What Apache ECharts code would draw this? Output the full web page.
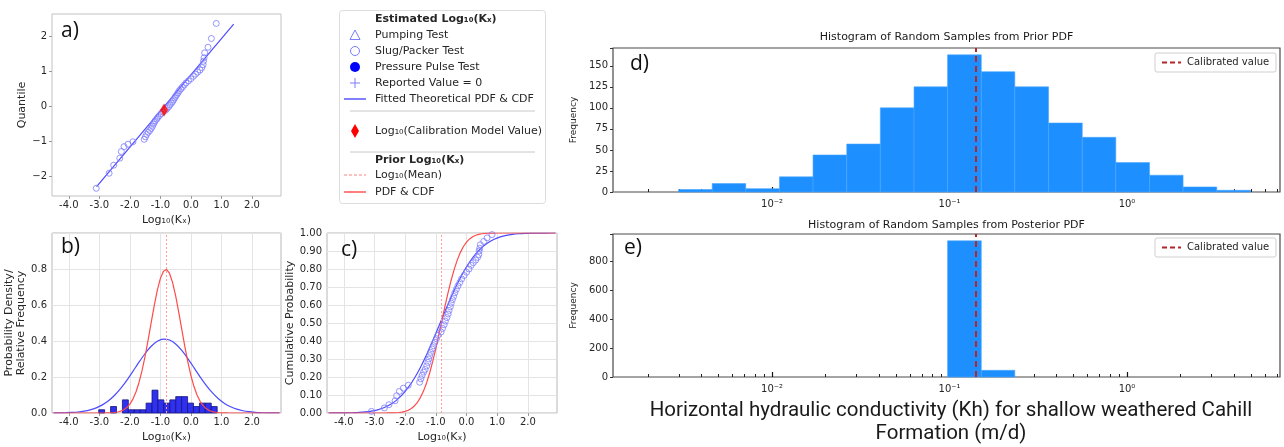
<!DOCTYPE html>
<html>
<head>
<meta charset="utf-8">
<script src="https://cdn.jsdelivr.net/npm/echarts@6/dist/echarts.min.js"></script>
<style>
  html, body { margin: 0; padding: 0; background: #fff; }
  #chart { width: 1284px; height: 447px; }
</style>
</head>
<body>
<div id="chart"></div>
<script>
// ---- Estimated log10(Kx) of the test samples (sorted) ----
const sampleLogK = [-3.10,-2.68,-2.53,-2.33,-2.28,-2.19,-2.06,-1.90,-1.53,-1.49,-1.45,-1.40,-1.35,-1.30,-1.26,-1.23,-1.20,-1.17,-1.12,-1.08,-1.03,-0.98,-0.93,-0.83,-0.78,-0.73,-0.69,-0.64,-0.60,-0.57,-0.53,-0.50,-0.46,-0.42,-0.38,-0.33,-0.28,-0.22,-0.16,-0.08,0.00,0.08,0.15,0.22,0.30,0.36,0.40,0.41,0.43,0.45,0.56,0.67,0.83];
const sampleQuantile = [-2.35,-1.92,-1.69,-1.49,-1.30,-1.16,-1.09,-1.02,-0.95,-0.88,-0.81,-0.75,-0.70,-0.64,-0.58,-0.52,-0.47,-0.42,-0.37,-0.32,-0.27,-0.22,-0.17,-0.12,-0.07,-0.02,0.03,0.08,0.13,0.18,0.23,0.28,0.33,0.38,0.44,0.49,0.54,0.60,0.66,0.72,0.78,0.85,0.91,0.97,1.03,1.10,1.18,1.28,1.38,1.52,1.68,1.93,2.36];
const sampleCumProb = [0.009,0.028,0.046,0.068,0.096,0.12,0.138,0.154,0.171,0.19,0.209,0.227,0.242,0.261,0.281,0.30,0.319,0.337,0.356,0.374,0.393,0.413,0.432,0.45,0.47,0.49,0.51,0.53,0.55,0.57,0.59,0.61,0.63,0.648,0.668,0.687,0.706,0.725,0.745,0.764,0.782,0.80,0.82,0.835,0.85,0.865,0.88,0.90,0.915,0.935,0.953,0.973,0.991];

// calibration model value and fitted Q-Q line
const calibLogK = -0.88;
const calibQuantile = -0.11;
const fitLineLogK = [-3.09, 1.40];
const fitLineQuantile = [-2.30, 2.34];
const priorMeanLogK = -0.82;

// fitted theoretical PDF / CDF
const fitCurveLogK = [-4.5,-4.3,-4.1,-3.9,-3.7,-3.5,-3.3,-3.1,-2.9,-2.7,-2.5,-2.3,-2.1,-1.9,-1.7,-1.5,-1.3,-1.1,-0.9,-0.7,-0.5,-0.3,-0.1,0.1,0.3,0.5,0.7,0.9,1.1,1.3,1.5,1.7,1.9,2.1,2.3,2.5,2.7,2.9];
const fitPdf = [0.0004,0.0008,0.0016,0.0030,0.0056,0.0102,0.0174,0.0285,0.0451,0.0679,0.0984,0.1368,0.1816,0.2313,0.2825,0.3306,0.3707,0.3986,0.4106,0.4054,0.3836,0.3479,0.3024,0.2519,0.2011,0.1538,0.1128,0.0792,0.0534,0.0345,0.0213,0.0127,0.0072,0.0039,0.0020,0.0010,0.0005,0.0002];
const fitCdf = [0.0001,0.0002,0.0004,0.0009,0.0017,0.0032,0.0060,0.0105,0.0177,0.0289,0.0454,0.0688,0.1006,0.1418,0.1932,0.2546,0.3250,0.4024,0.4836,0.5655,0.6447,0.7181,0.7835,0.8389,0.8841,0.9195,0.9461,0.9652,0.9784,0.9870,0.9925,0.9958,0.9978,0.9989,0.9994,0.9997,0.9999,0.9999];

// prior PDF / CDF
const priorCurveLogK = [-4.5,-2.9,-2.8,-2.7,-2.6,-2.5,-2.4,-2.3,-2.2,-2.1,-2.0,-1.9,-1.8,-1.7,-1.6,-1.5,-1.4,-1.3,-1.2,-1.1,-1.0,-0.9,-0.8,-0.7,-0.6,-0.5,-0.4,-0.3,-0.2,-0.1,0.0,0.1,0.2,0.3,0.4,0.5,0.6,0.7,0.8,0.9,1.0,1.1,1.2,1.3,2.9];
const priorPdf = [0,0.0001,0.0003,0.0007,0.0014,0.0028,0.0054,0.0100,0.0177,0.0301,0.0493,0.0774,0.1169,0.1696,0.2364,0.3165,0.4071,0.5033,0.5978,0.6821,0.7480,0.7879,0.7974,0.7753,0.7244,0.6502,0.5607,0.4647,0.3700,0.2830,0.2080,0.1468,0.0996,0.0649,0.0407,0.0245,0.0141,0.0079,0.0042,0.0021,0.0011,0.0005,0.0002,0.0001,0];
const priorCdf = [0,0,0,0.0001,0.0002,0.0004,0.0008,0.0015,0.0029,0.0052,0.0091,0.0154,0.0250,0.0392,0.0594,0.0869,0.1230,0.1685,0.2236,0.2877,0.3594,0.4364,0.5160,0.5948,0.6700,0.7389,0.7995,0.8508,0.8925,0.9251,0.9495,0.9671,0.9793,0.9875,0.9927,0.9959,0.9977,0.9988,0.9994,0.9997,0.9999,0.9999,1,1,1];

// relative frequency of the estimated log10(Kx)
const relFreqEdges = [-3.02,-2.826,-2.632,-2.438,-2.244,-2.05,-1.856,-1.662,-1.468,-1.274,-1.08,-0.886,-0.692,-0.498,-0.304,-0.11,0.084,0.278,0.472,0.666,0.86];
const relFreq = [0.018,0,0.036,0,0.073,0.018,0.018,0.018,0.055,0.127,0.073,0.055,0.073,0.091,0.091,0.055,0.036,0.055,0.055,0.036];

// random samples of Kh (m/d): shared bin edges, prior and posterior counts
const khBinEdges = [0.00297,0.0046,0.00711,0.01101,0.01702,0.02636,0.04074,0.0631,0.0975,0.151,0.2333,0.3614,0.5598,0.865,1.340,2.070,3.206,4.966];
const priorCounts = [3,10,4,18,44,57,100,125,163,143,125,82,65,35,20,6,2];
const posteriorCounts = [0,0,0,0,0,0,0,0,940,46,0,0,0,0,0,0,0];
const calibratedKh = 0.14;

// axis tick values
const logKTicks = [-4, -3, -2, -1, 0, 1, 2];
const quantileTicks = [-2, -1, 0, 1, 2];
const khMajorTicks = [0.01, 0.1, 1];
const khMinorTicks = [0.002,0.003,0.004,0.005,0.006,0.007,0.008,0.009,0.02,0.03,0.04,0.05,0.06,0.07,0.08,0.09,0.2,0.3,0.4,0.5,0.6,0.7,0.8,0.9,2,3,4,5,6,7];

// ---------------------------------------------------------------
const FONT = '"DejaVu Sans", sans-serif';
const TXT = '#262626';
const blueLine = '#4b4bff';
const bluePts = '#7c7cff';
const redLine = '#ff4a4a';

const chart = echarts.init(document.getElementById('chart'), null, { renderer: 'canvas' });

function zip(a, b) { return a.map((v, i) => [v, b[i]]); }
function binRows(edges, vals) {
  const rows = [];
  vals.forEach((v, i) => { if (v > 0) rows.push([edges[i], edges[i + 1], v]); });
  return rows;
}
function histRenderer(fill, stroke, lw) {
  return function (params, api) {
    const p0 = api.coord([api.value(0), api.value(2)]);
    const p1 = api.coord([api.value(1), 0]);
    return {
      type: 'rect',
      shape: { x: p0[0], y: p0[1], width: p1[0] - p0[0], height: p1[1] - p0[1] },
      style: { fill: fill, stroke: stroke, lineWidth: lw }
    };
  };
}
const fmtLogK = v => (Math.round(v * 10) / 10).toFixed(1);
const supMap = { '-': '⁻', '0': '⁰', '1': '¹', '2': '²', '3': '³' };
const fmtPow = v => '10' + String(Math.round(Math.log10(v))).split('').map(c => supMap[c]).join('');

function logKAxis(gi, withGrid) {
  return {
    type: 'value', gridIndex: gi, min: -4.55, max: 2.95,
    axisLine: { show: false, onZero: false },
    axisTick: { show: true, customValues: logKTicks, length: 3, lineStyle: { color: '#9a9a9a' } },
    axisLabel: { customValues: logKTicks, formatter: fmtLogK, color: TXT, fontFamily: FONT, fontSize: 10, margin: 4 },
    splitLine: { show: withGrid, lineStyle: { color: '#e4e4e4', width: 1 } },
    name: 'Log₁₀(Kₓ)', nameLocation: 'middle', nameGap: 19,
    nameTextStyle: { color: TXT, fontFamily: FONT, fontSize: 11 }
  };
}
function khAxis(gi) {
  return {
    type: 'log', logBase: 10, gridIndex: gi, min: 0.00127, max: 7.28,
    axisLine: { show: false, onZero: false },
    axisTick: { show: true, inside: true, customValues: khMajorTicks, length: 5, lineStyle: { color: '#111', width: 1.2 } },
    axisLabel: { customValues: khMajorTicks, formatter: fmtPow, color: TXT, fontFamily: FONT, fontSize: 10, margin: 7 },
    splitLine: { show: false }
  };
}
function khMinorAxis(gi) {
  return {
    type: 'log', logBase: 10, gridIndex: gi, min: 0.00127, max: 7.28, position: 'bottom',
    axisLine: { show: false, onZero: false },
    axisTick: { show: true, inside: true, customValues: khMinorTicks, length: 3, lineStyle: { color: '#222', width: 1 } },
    axisLabel: { show: false },
    splitLine: { show: false }
  };
}
function countAxis(gi, max, step) {
  return {
    type: 'value', gridIndex: gi, min: 0, max: max, interval: step,
    axisLine: { show: false, onZero: false },
    axisTick: { show: true, length: 3, lineStyle: { color: '#333' } },
    axisLabel: { color: TXT, fontFamily: FONT, fontSize: 10, margin: 5,
      formatter: v => (v % step === 0 ? String(v) : '') },
    splitLine: { show: false },
    name: 'Frequency', nameLocation: 'middle', nameGap: 34,
    nameTextStyle: { color: TXT, fontFamily: FONT, fontSize: 9 }
  };
}

const calibMark = {
  silent: true, symbol: 'none', label: { show: false },
  lineStyle: { color: '#b3262a', type: [6, 4], width: 2 },
  data: [{ xAxis: calibratedKh }]
};
const meanMark = {
  silent: true, symbol: 'none', label: { show: false },
  lineStyle: { color: '#ff9a9a', type: [2, 2], width: 1 },
  data: [{ xAxis: priorMeanLogK }]
};

// legend of panel a, drawn as graphic elements
const LX = 355, TX = 375;
const legendText = (t, y, bold) => ({
  type: 'text', z: 100, style: { text: t, x: TX, y: y, fill: TXT, verticalAlign: 'middle',
    font: (bold ? 'bold ' : '') + '11px ' + FONT }
});
const legendGraphic = [
  { type: 'rect', z: 99, shape: { x: 339.5, y: 10.5, width: 206, height: 193, r: 3 }, style: { fill: '#fff', stroke: '#dcdcdc', lineWidth: 1 } },
  legendText('Estimated Log₁₀(Kₓ)', 19, true),
  { type: 'polygon', z: 100, shape: { points: [[LX, 30], [LX - 5, 39.5], [LX + 5, 39.5]] }, style: { fill: 'none', stroke: bluePts, lineWidth: 1 } },
  legendText('Pumping Test', 35),
  { type: 'circle', z: 100, shape: { cx: LX, cy: 51, r: 4.5 }, style: { fill: 'none', stroke: bluePts, lineWidth: 1 } },
  legendText('Slug/Packer Test', 51),
  { type: 'circle', z: 100, shape: { cx: LX, cy: 67, r: 5 }, style: { fill: '#0000ff' } },
  legendText('Pressure Pulse Test', 67),
  { type: 'line', z: 100, shape: { x1: LX - 5, y1: 83, x2: LX + 5, y2: 83 }, style: { stroke: bluePts, lineWidth: 1 } },
  { type: 'line', z: 100, shape: { x1: LX, y1: 78, x2: LX, y2: 88 }, style: { stroke: bluePts, lineWidth: 1 } },
  legendText('Reported Value = 0', 83),
  { type: 'line', z: 100, shape: { x1: LX - 11, y1: 99, x2: LX + 11, y2: 99 }, style: { stroke: blueLine, lineWidth: 1.4 } },
  legendText('Fitted Theoretical PDF & CDF', 99),
  { type: 'line', z: 100, shape: { x1: 350, y1: 111, x2: 535, y2: 111 }, style: { stroke: '#c8c8c8', lineWidth: 1 } },
  { type: 'polygon', z: 100, shape: { points: [[LX, 124], [LX + 4, 131], [LX, 138], [LX - 4, 131]] }, style: { fill: '#ff0000' } },
  legendText('Log₁₀(Calibration Model Value)', 131),
  { type: 'line', z: 100, shape: { x1: 350, y1: 152, x2: 535, y2: 152 }, style: { stroke: '#c8c8c8', lineWidth: 1 } },
  legendText('Prior Log₁₀(Kₓ)', 160, true),
  { type: 'line', z: 100, shape: { x1: LX - 11, y1: 175, x2: LX + 11, y2: 175 }, style: { stroke: '#ff8080', lineWidth: 1, lineDash: [3, 2] } },
  legendText('Log₁₀(Mean)', 175),
  { type: 'line', z: 100, shape: { x1: LX - 11, y1: 192, x2: LX + 11, y2: 192 }, style: { stroke: redLine, lineWidth: 1.4 } },
  legendText('PDF & CDF', 192)
];

function calibLegend(x, y) {
  return [
    { type: 'rect', z: 100, shape: { x: x, y: y, width: 121, height: 19, r: 2 }, style: { fill: '#fff', stroke: '#cfcfcf', lineWidth: 1 } },
    { type: 'line', z: 101, shape: { x1: x + 7, y1: y + 9.5, x2: x + 26, y2: y + 9.5 }, style: { stroke: '#b3262a', lineWidth: 2, lineDash: [5, 3] } },
    { type: 'text', z: 101, style: { text: 'Calibrated value', x: x + 32, y: y + 9.5, verticalAlign: 'middle', fill: TXT, font: '10px ' + FONT } }
  ];
}
const panelLabel = (t, x, y) => ({ type: 'text', z: 100, style: { text: t, x: x, y: y, verticalAlign: 'middle', fill: '#111', font: '21px "Open Sans", sans-serif' } });
const centerText = (t, x, y, font) => ({ type: 'text', z: 100, style: { text: t, x: x, y: y, align: 'center', verticalAlign: 'middle', fill: '#1a1a1a', font: font } });

const option = {
  animation: false,
  backgroundColor: '#fff',
  grid: [
    { left: 52, top: 14, width: 229, height: 182, show: true, borderColor: '#c2c2c2', borderWidth: 1 },
    { left: 52, top: 233, width: 229, height: 180, show: true, borderColor: '#b8b8b8', borderWidth: 1 },
    { left: 327, top: 233, width: 230, height: 180, show: true, borderColor: '#b8b8b8', borderWidth: 1 },
    { left: 613, top: 48, width: 667, height: 144, show: true, borderColor: '#4a4a4a', borderWidth: 1.2 },
    { left: 613, top: 234, width: 667, height: 143, show: true, borderColor: '#4a4a4a', borderWidth: 1.2 }
  ],
  xAxis: [
    logKAxis(0, false),
    logKAxis(1, true),
    logKAxis(2, true),
    khAxis(3), khMinorAxis(3),
    khAxis(4), khMinorAxis(4)
  ],
  yAxis: [
    {
      type: 'value', gridIndex: 0, min: -2.57, max: 2.63,
      axisLine: { show: false, onZero: false },
      axisTick: { show: true, customValues: quantileTicks, length: 3, lineStyle: { color: '#9a9a9a' } },
      axisLabel: { customValues: quantileTicks, formatter: v => String(v).replace('-', '−'), color: TXT, fontFamily: FONT, fontSize: 10, margin: 5 },
      splitLine: { show: false },
      name: 'Quantile', nameLocation: 'middle', nameGap: 24,
      nameTextStyle: { color: TXT, fontFamily: FONT, fontSize: 11 }
    },
    {
      type: 'value', gridIndex: 1, min: 0, max: 1, interval: 0.2,
      axisLine: { show: false, onZero: false },
      axisTick: { show: false },
      axisLabel: { color: TXT, fontFamily: FONT, fontSize: 10, margin: 5, formatter: v => (v < 0.95 ? v.toFixed(1) : '') },
      splitLine: { show: true, lineStyle: { color: '#e4e4e4' } },
      name: 'Probability Density/\nRelative Frequency', nameLocation: 'middle', nameGap: 24,
      nameTextStyle: { color: TXT, fontFamily: FONT, fontSize: 11, lineHeight: 12 }
    },
    {
      type: 'value', gridIndex: 2, min: 0, max: 1, interval: 0.1,
      axisLine: { show: false, onZero: false },
      axisTick: { show: false },
      axisLabel: { color: TXT, fontFamily: FONT, fontSize: 10, margin: 5, formatter: v => v.toFixed(2) },
      splitLine: { show: true, lineStyle: { color: '#e4e4e4' } },
      name: 'Cumulative Probability', nameLocation: 'middle', nameGap: 30,
      nameTextStyle: { color: TXT, fontFamily: FONT, fontSize: 11 }
    },
    countAxis(3, 171.15, 25),
    countAxis(4, 987, 200)
  ],
  series: [
    // a) Q-Q plot
    { type: 'line', xAxisIndex: 0, yAxisIndex: 0, data: zip(fitLineLogK, fitLineQuantile), showSymbol: false, lineStyle: { color: blueLine, width: 1.2 }, z: 2 },
    { type: 'scatter', xAxisIndex: 0, yAxisIndex: 0, data: zip(sampleLogK, sampleQuantile), symbol: 'circle', symbolSize: 6,
      itemStyle: { color: 'rgba(0,0,0,0)', borderColor: bluePts, borderWidth: 1 }, z: 3 },
    { type: 'scatter', xAxisIndex: 0, yAxisIndex: 0, data: [[calibLogK, calibQuantile]], symbol: 'diamond', symbolSize: [8, 13],
      itemStyle: { color: '#ff0000' }, z: 5 },

    // b) PDFs and relative frequency
    { type: 'custom', xAxisIndex: 1, yAxisIndex: 1, data: binRows(relFreqEdges, relFreq),
      encode: { x: [0, 1], y: 2 }, renderItem: histRenderer('#3030f0', '#15157a', 0.8), z: 2 },
    { type: 'line', xAxisIndex: 1, yAxisIndex: 1, data: zip(fitCurveLogK, fitPdf), showSymbol: false, smooth: 0.2,
      lineStyle: { color: blueLine, width: 1.2 }, z: 3 },
    { type: 'line', xAxisIndex: 1, yAxisIndex: 1, data: zip(priorCurveLogK, priorPdf), showSymbol: false,
      lineStyle: { color: redLine, width: 1.2 }, z: 4, markLine: meanMark },

    // c) CDFs
    { type: 'line', xAxisIndex: 2, yAxisIndex: 2, data: zip(fitCurveLogK, fitCdf), showSymbol: false, smooth: 0.2,
      lineStyle: { color: blueLine, width: 1.2 }, z: 3 },
    { type: 'line', xAxisIndex: 2, yAxisIndex: 2, data: zip(priorCurveLogK, priorCdf), showSymbol: false,
      lineStyle: { color: redLine, width: 1.2 }, z: 4, markLine: meanMark },
    { type: 'scatter', xAxisIndex: 2, yAxisIndex: 2, data: zip(sampleLogK, sampleCumProb), symbol: 'circle', symbolSize: 6,
      itemStyle: { color: 'rgba(0,0,0,0)', borderColor: bluePts, borderWidth: 1 }, z: 5 },

    // d) prior samples
    { type: 'custom', xAxisIndex: 3, yAxisIndex: 3, data: binRows(khBinEdges, priorCounts),
      encode: { x: [0, 1], y: 2 }, renderItem: histRenderer('#1e8fff', '#4aa6ff', 0.6), z: 2, markLine: calibMark },

    // e) posterior samples
    { type: 'custom', xAxisIndex: 5, yAxisIndex: 4, data: binRows(khBinEdges, posteriorCounts),
      encode: { x: [0, 1], y: 2 }, renderItem: histRenderer('#1e8fff', '#4aa6ff', 0.6), z: 2, markLine: calibMark }
  ],
  graphic: [].concat(
    legendGraphic,
    calibLegend(1155, 53),
    calibLegend(1155, 238),
    [
      panelLabel('a)', 61, 31),
      panelLabel('b)', 61, 247),
      panelLabel('c)', 341, 250),
      panelLabel('d)', 630, 64),
      panelLabel('e)', 624, 248),
      centerText('Histogram of Random Samples from Prior PDF', 946.5, 37, '11px ' + FONT),
      centerText('Histogram of Random Samples from Posterior PDF', 946.5, 225, '11px ' + FONT),
      centerText('Horizontal hydraulic conductivity (Kh) for shallow weathered Cahill', 951, 411, '20.5px Roboto, sans-serif'),
      centerText('Formation (m/d)', 951, 434, '20.5px Roboto, sans-serif')
    ]
  )
};
chart.setOption(option);
</script>
</body>
</html>
